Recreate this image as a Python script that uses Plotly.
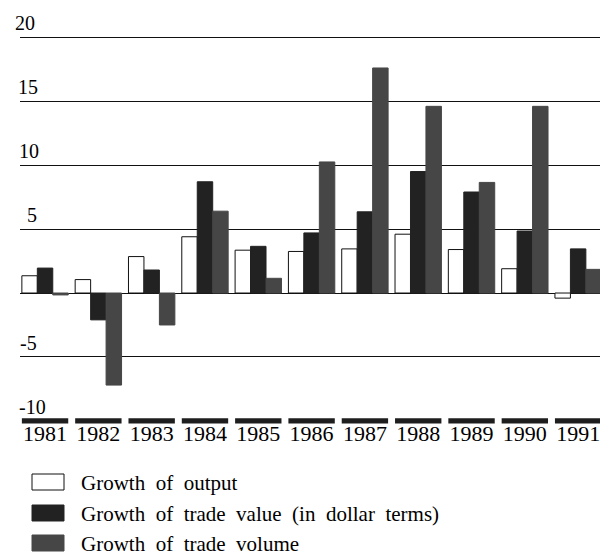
import plotly.graph_objects as go

years = ["1981", "1982", "1983", "1984", "1985", "1986", "1987", "1988", "1989", "1990", "1991"]
output_growth = [1.35, 1.05, 2.85, 4.4, 3.35, 3.25, 3.45, 4.6, 3.4, 1.9, -0.4]
trade_value_growth = [1.95, -2.1, 1.8, 8.7, 3.65, 4.7, 6.35, 9.5, 7.9, 4.85, 3.45]
trade_volume_growth = [-0.15, -7.2, -2.5, 6.4, 1.15, 10.25, 17.6, 14.6, 8.65, 14.6, 1.85]
y_tick_values = [20, 15, 10, 5, -5, -10]
y_tick_labels = ["20", "15", "10", "5", "-5", "-10"]
series_names = ["Growth of output",
                "Growth of trade value (in dollar terms)",
                "Growth of trade volume"]

FONT = "Liberation Serif"
W, H = 600, 557
ML, MR, MT, MB = 20, 0, 36, 131
PW, PH = W - ML - MR, H - MT - MB

def px_x(px):
    return (px - ML) / PW

def px_y(py):
    return (H - MB - py) / PH

colors = ["#ffffff", "#222222", "#464646"]
lines = ["#111111", "#222222", "#464646"]

fig = go.Figure()
for name, vals, c, lc in zip(series_names,
                             [output_growth, trade_value_growth, trade_volume_growth],
                             colors, lines):
    fig.add_trace(go.Bar(x=years, y=vals, name=name,
                         marker=dict(color=c, line=dict(color=lc, width=1)),
                         showlegend=False))

# dark band segments under each year (bottom rule of the chart)
fig.add_trace(go.Bar(x=years, y=[0.4] * len(years), base=[-10.2] * len(years),
                     xaxis="x2", marker=dict(color="#1e1e1e", line=dict(width=0)),
                     showlegend=False, hoverinfo="skip"))

fig.update_layout(
    width=W, height=H,
    margin=dict(l=ML, r=MR, t=MT, b=MB),
    paper_bgcolor="white", plot_bgcolor="white",
    barmode="group", bargap=0.13, bargroupgap=0,
    font=dict(family=FONT, color="black"),
    xaxis=dict(type="category", range=[-0.47, 10.41], showgrid=False, zeroline=False,
               showline=False, ticks="", ticklabelstandoff=-8,
               tickfont=dict(family=FONT, size=22, color="black")),
    xaxis2=dict(overlaying="x", matches="x", visible=False),
    yaxis=dict(range=[-10.4, 20.1], tickvals=[20, 15, 10, 5, 0, -5], showticklabels=False,
               showgrid=True, gridcolor="#111111", gridwidth=1.3,
               zeroline=True, zerolinecolor="#111111", zerolinewidth=1.3,
               showline=False, ticks=""),
)

label_shifts = [-7, -4, -3, 5, -2, -3]
for v, t, s in zip(y_tick_values, y_tick_labels, label_shifts):
    fig.add_annotation(x=0, xref="paper", y=v, yref="y", text=t, showarrow=False,
                       xanchor="left", yanchor="middle", xshift=s, yshift=14,
                       font=dict(family=FONT, size=20, color="black"))

# custom legend
legend_rows = [482, 513, 543]
for name, c, lc, cy in zip(series_names, colors, lines, legend_rows):
    fig.add_shape(type="rect", xref="paper", yref="paper",
                  x0=px_x(32), x1=px_x(64), y0=px_y(cy + 8), y1=px_y(cy - 8),
                  fillcolor=c, line=dict(color=lc, width=1))
    fig.add_annotation(x=px_x(79), xref="paper", y=px_y(cy + 1), yref="paper",
                       text=name.replace(" ", "\u00a0\u00a0"), showarrow=False,
                       xanchor="left", yanchor="middle",
                       font=dict(family=FONT, size=21, color="black"))

fig.write_html("out.html", config={"displayModeBar": False},
               post_script="document.body.style.margin='0';")
